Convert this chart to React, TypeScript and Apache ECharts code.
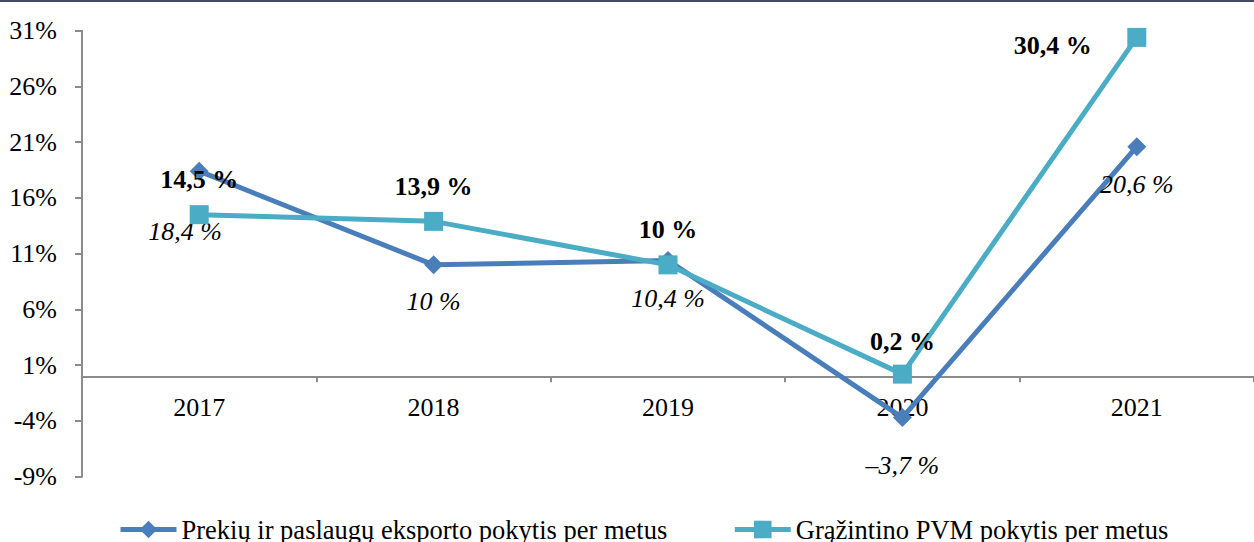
import React, { useEffect, useRef } from "react";
import * as echarts from "echarts";

const categories = ["2017", "2018", "2019", "2020", "2021"];
const exportChange = [18.4, 10, 10.4, -3.7, 20.6];
const vatChange = [14.5, 13.9, 10, 0.2, 30.4];
const yTicks = [-9, -4, 1, 6, 11, 16, 21, 26, 31];
const seriesNames = [
  "Prekių ir paslaugų eksporto pokytis per metus",
  "Grąžintino PVM pokytis per metus",
];

const FONT = '"Liberation Serif", "Times New Roman", serif';

const fmt = (v: number) =>
  (v < 0 ? "\u2013" : "") + String(Math.abs(v)).replace(".", ",") + " %";

export default function App() {
  const ref = useRef<HTMLDivElement>(null);
  useEffect(() => {
    if (!ref.current) return;
    const chart = echarts.init(ref.current, undefined, { renderer: "svg" });
    const s1Off = [[-14, 60], [0, 37], [0, 38], [0, 48], [0, 38]];
    const s2Off = [[0, -35], [0, -35], [0, -35], [0, -33], [-84, 8]];
    chart.setOption({
      animation: false,
      graphic: [
        {
          type: "rect",
          shape: { x: 0, y: 0, width: 1254, height: 2 },
          style: { fill: "#414c5e" },
          silent: true,
        },
      ],
      grid: { left: 82, right: -3, top: 30.7, bottom: 65.3, containLabel: false },
      legend: {
        left: 113,
        top: 511,
        itemWidth: 56,
        itemHeight: 22,
        itemGap: 65,
        lineStyle: { width: 5 },
        textStyle: { fontFamily: FONT, fontSize: 26.5, color: "#000" },
        data: seriesNames,
      },
      xAxis: {
        type: "category",
        data: categories,
        boundaryGap: true,
        axisLine: { onZero: true, lineStyle: { color: "#8c8c8c", width: 2 } },
        axisTick: { show: true, alignWithLabel: false, length: 6, lineStyle: { color: "#8c8c8c", width: 2 } },
        axisLabel: { fontFamily: FONT, fontSize: 26, color: "#000", margin: -82 },
        splitLine: { show: false },
      },
      yAxis: {
        type: "value",
        min: -9,
        max: 31,
        axisLine: { show: true, lineStyle: { color: "#8c8c8c", width: 2 } },
        axisTick: {
          show: true,
          length: 7,
          customValues: yTicks,
          lineStyle: { color: "#8c8c8c", width: 2 },
        },
        axisLabel: {
          customValues: yTicks,
          formatter: (v: number) => v + "%",
          fontFamily: FONT,
          fontSize: 26,
          color: "#000",
          margin: 25,
        },
        splitLine: { show: false },
      },
      series: [
        {
          name: seriesNames[0],
          type: "line",
          data: exportChange.map((v, i) => ({
            value: v,
            label: { offset: s1Off[i] },
          })),
          symbol: "diamond",
          symbolSize: 19,
          color: "#4a7ebb",
          lineStyle: { width: 5, color: "#4a7ebb" },
          itemStyle: { color: "#4a7ebb" },
          z: 2,
          label: {
            show: true,
            position: "inside",
            formatter: (p: any) => fmt(exportChange[p.dataIndex]),
            fontFamily: FONT,
            fontSize: 26,
            fontStyle: "italic",
            color: "#000",
          },
        },
        {
          name: seriesNames[1],
          type: "line",
          data: vatChange.map((v, i) => ({
            value: v,
            label: { offset: s2Off[i] },
          })),
          symbol: "rect",
          symbolSize: 19,
          color: "#4bacc6",
          lineStyle: { width: 5, color: "#4bacc6" },
          itemStyle: { color: "#4bacc6" },
          z: 3,
          label: {
            show: true,
            position: "inside",
            formatter: (p: any) => fmt(vatChange[p.dataIndex]),
            fontFamily: FONT,
            fontSize: 26,
            fontWeight: "bold",
            color: "#000",
          },
        },
      ],
    });
    return () => chart.dispose();
  }, []);
  return (
    <div
      ref={ref}
      style={{ position: "fixed", left: 0, top: 0, width: 1254, height: 542, background: "#fff" }}
    />
  );
}
